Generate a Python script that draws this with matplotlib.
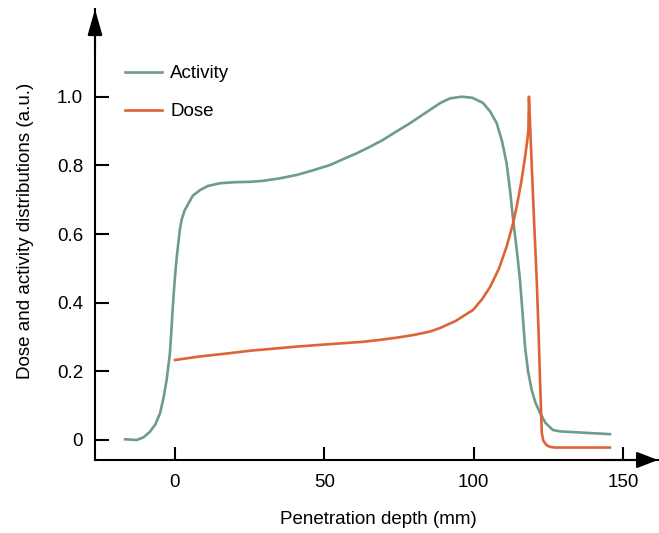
import matplotlib
matplotlib.use('Agg')
import matplotlib.pyplot as plt

plt.rcParams['font.family'] = ['Liberation Sans', 'DejaVu Sans']

# Activity curve (mm, a.u.)
activity_x = [-16.7, -12.8, -10.5, -8.4, -6.6, -5.0, -3.9, -2.8, -1.7, -1.2, -0.8, -0.4,
              0.0, 0.5, 1.1, 1.6, 2.2, 3.2, 4.5, 6.0, 8.4, 11.0, 15.1, 20.0, 25.1,
              29.5, 35.0, 40.7, 46.0, 51.9, 56.0, 60.8, 65.0, 69.6, 74.0, 78.7,
              83.0, 88.7, 92.0, 96.0, 99.5, 103.1, 105.5, 107.7, 109.5, 111.0,
              112.2, 113.2, 114.4, 115.5, 116.4, 117.2, 118.2, 119.4, 120.7, 122.2,
              124.0, 126.5, 129.0, 133.2, 145.6]
activity_y = [0.002, 0.0, 0.008, 0.024, 0.045, 0.078, 0.12, 0.175, 0.253, 0.32, 0.379, 0.43,
              0.476, 0.525, 0.573, 0.61, 0.641, 0.668, 0.689, 0.712, 0.728, 0.740, 0.748, 0.751, 0.752,
              0.755, 0.762, 0.772, 0.785, 0.801, 0.817, 0.835, 0.853, 0.874, 0.898, 0.923,
              0.948, 0.981, 0.995, 1.0, 0.997, 0.982, 0.957, 0.923, 0.870, 0.807,
              0.725, 0.641, 0.555, 0.466, 0.365, 0.271, 0.200, 0.146, 0.108, 0.079,
              0.050, 0.029, 0.025, 0.023, 0.017]

# Dose curve
dose_x = [0.0, 8.0, 18.4, 25.1, 40.7, 50.0, 62.9, 68.0, 74.2, 80.0, 85.4, 88.7, 94.0,
          99.8, 102.8, 105.5, 108.5, 111.0, 113.0, 114.4, 115.9, 117.2, 117.9, 118.3, 118.5,
          119.4, 120.2, 121.1, 121.7, 122.2, 122.8, 123.3, 124.4, 125.5, 127.2, 145.6]
dose_y = [0.233, 0.243, 0.253, 0.260, 0.272, 0.278, 0.286, 0.291, 0.298, 0.306, 0.316, 0.326, 0.347,
          0.379, 0.410, 0.446, 0.500, 0.563, 0.625, 0.680, 0.750, 0.825, 0.870, 0.903, 1.0,
          0.807, 0.640, 0.466, 0.320, 0.175, 0.020, -0.002, -0.015, -0.020, -0.022, -0.022]

xticks = [0, 50, 100, 150]
yticks = [0, 0.2, 0.4, 0.6, 0.8, 1.0]
ytick_labels = ['0', '0.2', '0.4', '0.6', '0.8', '1.0']

green = '#6e9b8c'
orange = '#de6437'

fig = plt.figure(figsize=(6.59, 5.33), dpi=100)
ax = fig.add_axes([95 / 659, 73 / 533, 563 / 659, 451 / 533])

ax.plot(activity_x, activity_y, color=green, lw=1.9, label='Activity')
ax.plot(dose_x, dose_y, color=orange, lw=1.9, label='Dose')

ax.set_xlim(-26.78, 161.7)
ax.set_ylim(-0.0583, 1.2555)

for s in ['top', 'right']:
    ax.spines[s].set_visible(False)
for s in ['left', 'bottom']:
    ax.spines[s].set_linewidth(1.5)

ax.set_xticks(xticks)
ax.set_yticks(yticks)
ax.set_yticklabels(ytick_labels)
ax.tick_params(axis='x', direction='in', length=9.5, width=1.5, pad=10, labelsize=13.5)
ax.tick_params(axis='y', direction='in', length=10, width=1.5, pad=8.5, labelsize=13.5)

# arrow heads
ax.annotate('', xy=(1, 0), xytext=(0.9, 0), xycoords='axes fraction',
            arrowprops=dict(arrowstyle='-|>,head_length=1.3,head_width=0.5',
                            color='black', lw=1.5, shrinkA=0, shrinkB=0, mutation_scale=10))
ax.annotate('', xy=(0, 1), xytext=(0, 0.9), xycoords='axes fraction',
            arrowprops=dict(arrowstyle='-|>,head_length=1.6,head_width=0.45',
                            color='black', lw=1.5, shrinkA=0, shrinkB=0, mutation_scale=10))

ax.set_xlabel('Penetration depth (mm)', fontsize=13.5)
ax.set_ylabel('Dose and activity distributions (a.u.)', fontsize=13.5)
ax.xaxis.set_label_coords(0.504, -0.112)
ax.yaxis.set_label_coords(-0.108, 0.507)

ax.legend(loc='upper left', bbox_to_anchor=(125 / 659, 1 - 65 / 533),
          bbox_transform=fig.transFigure, frameon=False, fontsize=13.5,
          handlelength=1.97, handletextpad=0.45, labelspacing=1.12,
          borderpad=0, borderaxespad=0)

fig.savefig('out.png', dpi=100)
